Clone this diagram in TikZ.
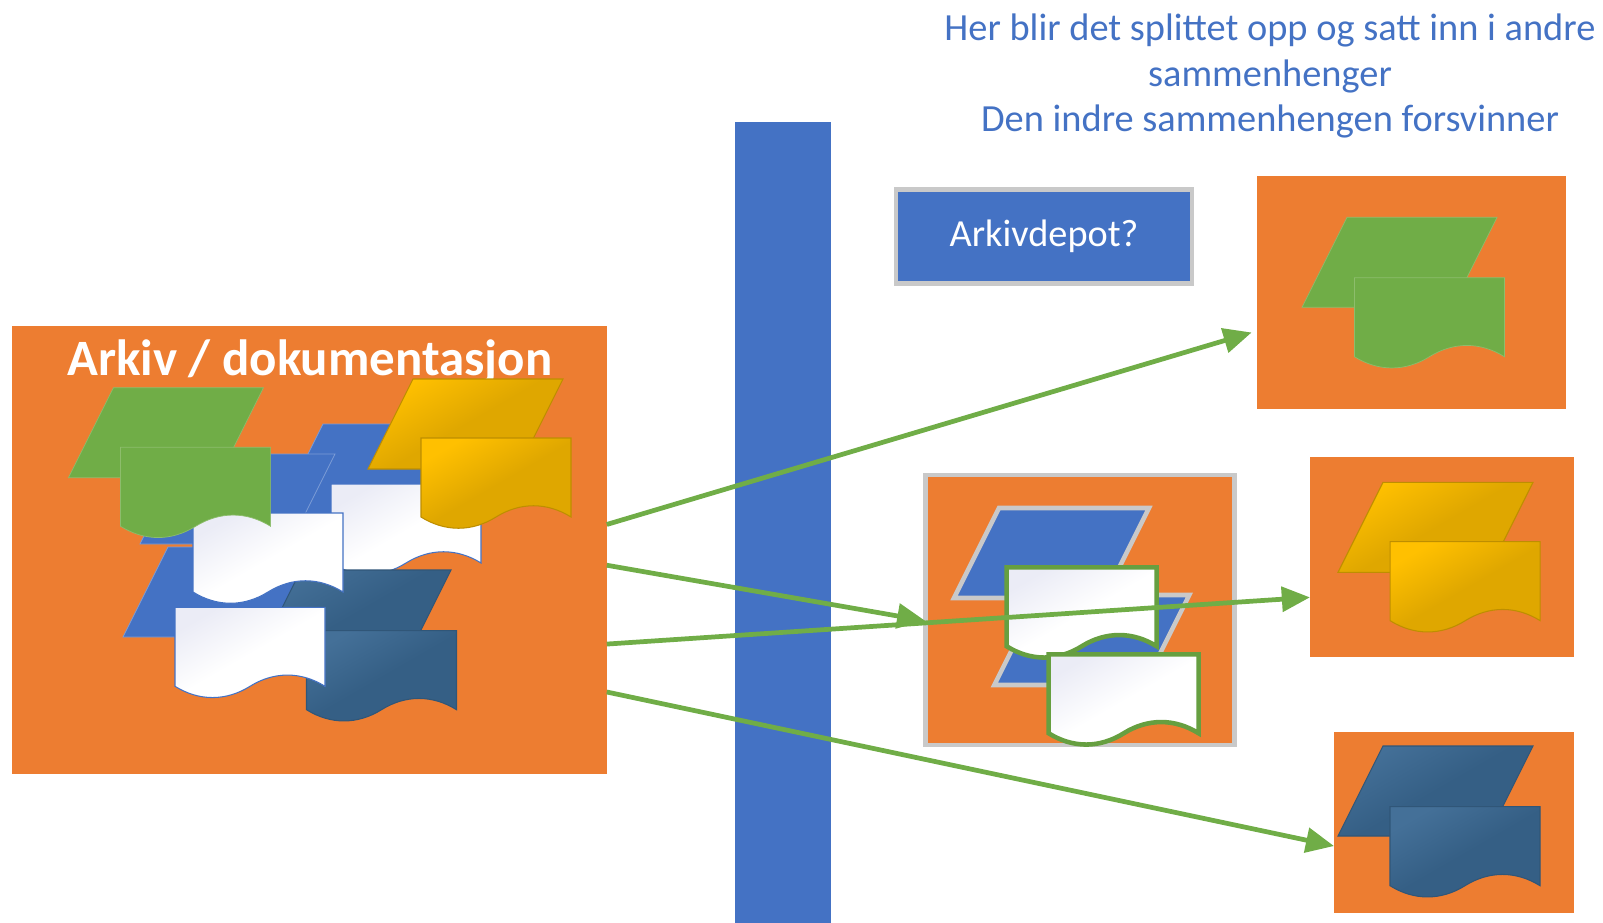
\documentclass[tikz,border=0pt]{standalone}
\usepackage{fontspec}
\setmainfont{Carlito}
\usetikzlibrary{arrows.meta,calc}
\definecolor{oransje}{HTML}{ED7D31}
\definecolor{blaa}{HTML}{4472C4}
\definecolor{groenn}{HTML}{70AD47}
\definecolor{moerkgroenn}{HTML}{669F40}
\definecolor{graa}{HTML}{C9C9C9}
\definecolor{gullys}{HTML}{FFC000}
\definecolor{gullmoerk}{HTML}{DFA700}
\definecolor{blaalys}{HTML}{447098}
\definecolor{blaamoerk}{HTML}{355F85}
\definecolor{hvitlys}{HTML}{EBECF6}
\tikzset{
  boks/.style={fill=oransje,inner sep=0pt,outer sep=0pt},
  pil/.style={draw=groenn,line width=2.7pt,-{Triangle[length=16pt,width=14pt]}},
  flatgroenn/.style={fill=groenn,draw=groenn!80!white,line width=0.4pt},
  flatblaa/.style={fill=blaa,draw=blaa!70!white,line width=0.4pt},
  gull/.style={top color=gullys,bottom color=gullmoerk,middle color=gullmoerk,shading angle=30,draw=gullmoerk!85!black,line width=0.6pt},
  moerkblaa/.style={top color=blaalys,bottom color=blaamoerk,middle color=blaamoerk,shading angle=30,draw=blaamoerk!90!black,line width=0.6pt},
  hvit/.style={top color=hvitlys,bottom color=white,middle color=white,shading angle=30,draw=blaa,line width=0.6pt},
  grensehvit/.style={top color=hvitlys,bottom color=white,middle color=white,shading angle=30,draw=moerkgroenn,line width=2.6pt},
  grenseblaa/.style={fill=blaa,draw=graa,line width=2.6pt},
}
\newcommand{\ark}[3]{\path[#3] (#1,#2) -- (#1+150,#2) -- (#1+105,#2+90) -- (#1-45,#2+90) -- cycle;}
\newcommand{\dokument}[3]{\path[#3] (#1,#2) -- (#1+150,#2) -- (#1+150,#2+79)
  .. controls (#1+126,#2+64) and (#1+99,#2+64) .. (#1+75,#2+79)
  .. controls (#1+51,#2+94) and (#1+24,#2+94) .. (#1,#2+79) -- cycle;}

\begin{document}
\begin{tikzpicture}[x=0.02cm,y=-0.02cm]
\useasboundingbox (0,0) rectangle (1603,923);
% Top text and bar
\node[text=blaa,align=center,font=\fontsize{21.85}{26}\selectfont] (tekst) at (1270,76)
  {Her blir det splittet opp og satt inn i andre\\sammenhenger\\Den indre sammenhengen forsvinner};
\node[fill=blaa,inner sep=0pt,minimum width=1.92cm,minimum height=16.02cm] (stolpe) at (783,522.5) {};
\node[fill=blaa,draw=graa,line width=2.8pt,inner sep=0pt,minimum width=5.92cm,minimum height=1.88cm,
  text=white,font=\fontsize{21.8}{26}\selectfont] (depot) at (1044,236.5) {Arkivdepot?};
% Left box
\node[boks,minimum width=11.89cm,minimum height=8.96cm] (arkiv) at (309.6,550) {};
\node[text=white,font=\bfseries\fontsize{29}{34}\selectfont,anchor=base] (tittel) at (310,375) {Arkiv / dokumentasjon};
\ark{323}{424}{flatblaa}
\ark{185}{454}{flatblaa}
\dokument{331}{484}{hvit}
\ark{168}{547}{flatblaa}
\ark{301}{570}{moerkblaa}
\dokument{193}{513}{hvit}
\ark{113.5}{387.7}{flatgroenn}
\dokument{120.6}{447.3}{flatgroenn}
\ark{413}{379}{gull}
\dokument{421}{438}{gull}
\dokument{306.5}{630.7}{moerkblaa}
\dokument{175}{607.3}{hvit}
% Boxes on the right
\node[boks,minimum width=6.19cm,minimum height=4.67cm] (groennboks) at (1411.4,292.4) {};
\ark{1347}{217.3}{flatgroenn}
\dokument{1354.4}{277.7}{flatgroenn}
\node[boks,draw=graa,line width=2.8pt,minimum width=6.18cm,minimum height=5.4cm] (blaaboks) at (1079.7,610) {};
\ark{999}{508}{grenseblaa}
\ark{1039.3}{595}{grenseblaa}
\dokument{1006.7}{567.3}{grensehvit}
\dokument{1048.7}{654.3}{grensehvit}
\node[boks,minimum width=5.28cm,minimum height=4cm] (gullboks) at (1441.9,557) {};
\ark{1383}{482.3}{gull}
\dokument{1390.2}{541.7}{gull}
\node[boks,minimum width=4.8cm,minimum height=3.63cm] (moerkboks) at (1454,822.7) {};
\ark{1383}{746}{moerkblaa}
\dokument{1390}{806.7}{moerkblaa}
% Arrows
\draw[pil,shorten >=3pt] ($(arkiv.north east)!0.443!(arkiv.south east)$) -- (groennboks.194.25);
\draw[pil] ($(arkiv.north east)!0.534!(arkiv.south east)$) -- (blaaboks.184.5);
\draw[pil] ($(arkiv.north east)!0.71!(arkiv.south east)$) -- (gullboks.197.25);
\draw[pil] ($(arkiv.north east)!0.817!(arkiv.south east)$) -- (moerkboks.191.9);
\end{tikzpicture}
\end{document}
